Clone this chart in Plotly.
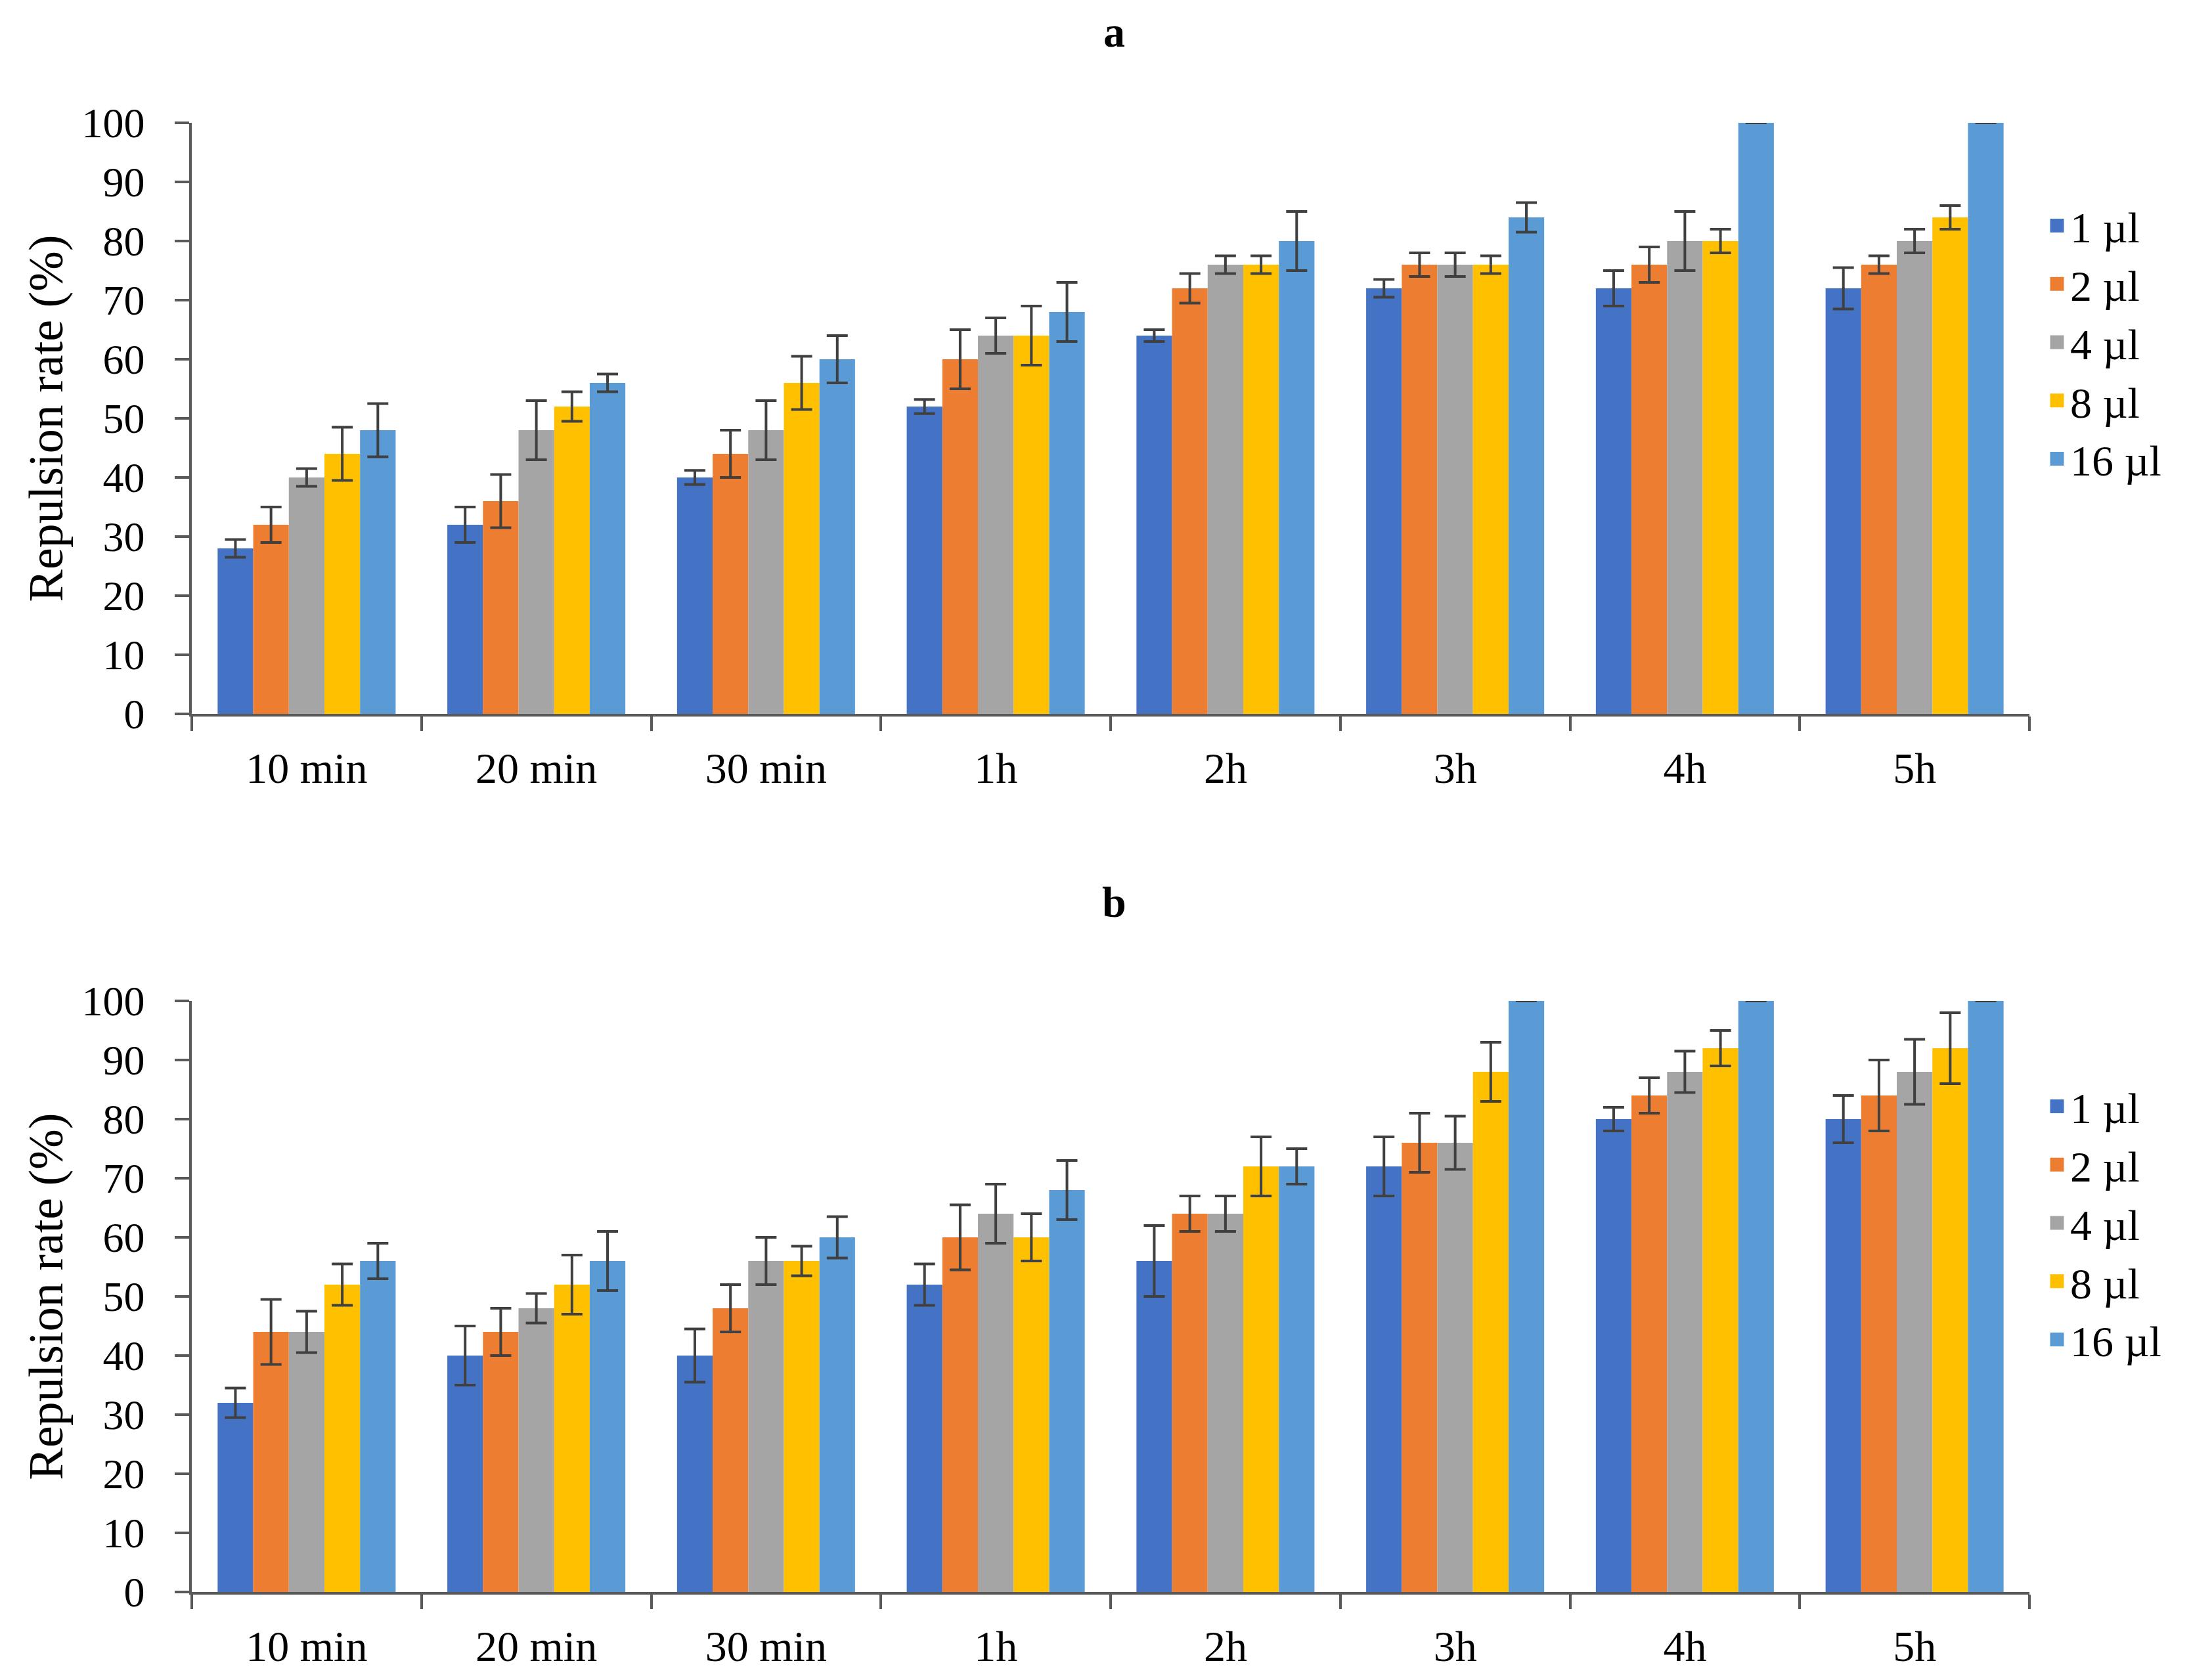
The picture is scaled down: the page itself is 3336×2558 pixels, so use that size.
import plotly.graph_objects as go

categories = ["10 min", "20 min", "30 min", "1h", "2h", "3h", "4h", "5h"]
doses = ["1 \u00b5l", "2 \u00b5l", "4 \u00b5l", "8 \u00b5l", "16 \u00b5l"]
colors = ["#4472C4", "#ED7D31", "#A5A5A5", "#FFC000", "#5B9BD5"]

# Panel a: values per dose across categories
a_1 = [28, 32, 40, 52, 64, 72, 72, 72]
a_2 = [32, 36, 44, 60, 72, 76, 76, 76]
a_4 = [40, 48, 48, 64, 76, 76, 80, 80]
a_8 = [44, 52, 56, 64, 76, 76, 80, 84]
a_16 = [48, 56, 60, 68, 80, 84, 100, 100]
a_err_1 = [1.5, 3, 1.2, 1.2, 1, 1.5, 3, 3.5]
a_err_2 = [3, 4.5, 4, 5, 2.5, 2, 3, 1.5]
a_err_4 = [1.5, 5, 5, 3, 1.5, 2, 5, 2]
a_err_8 = [4.5, 2.5, 4.5, 5, 1.5, 1.5, 2, 2]
a_err_16 = [4.5, 1.5, 4, 5, 5, 2.5, 0, 0]

# Panel b
b_1 = [32, 40, 40, 52, 56, 72, 80, 80]
b_2 = [44, 44, 48, 60, 64, 76, 84, 84]
b_4 = [44, 48, 56, 64, 64, 76, 88, 88]
b_8 = [52, 52, 56, 60, 72, 88, 92, 92]
b_16 = [56, 56, 60, 68, 72, 100, 100, 100]
b_err_1 = [2.5, 5, 4.5, 3.5, 6, 5, 2, 4]
b_err_2 = [5.5, 4, 4, 5.5, 3, 5, 3, 6]
b_err_4 = [3.5, 2.5, 4, 5, 3, 4.5, 3.5, 5.5]
b_err_8 = [3.5, 5, 2.5, 4, 5, 5, 3, 6]
b_err_16 = [3, 5, 3.5, 5, 3, 0, 0, 0]

y_ticks = [0, 10, 20, 30, 40, 50, 60, 70, 80, 90, 100]
y_title = "Repulsion rate (%)"

panel_a = [a_1, a_2, a_4, a_8, a_16]
panel_a_err = [a_err_1, a_err_2, a_err_4, a_err_8, a_err_16]
panel_b = [b_1, b_2, b_4, b_8, b_16]
panel_b_err = [b_err_1, b_err_2, b_err_4, b_err_8, b_err_16]

FONT = "Liberation Serif"
AXC = "#595959"
OFF = 8  # page body margin
W, H = 3336 - OFF, 2558 - OFF
ML, MR, MT, MB = 292 - OFF, 246, 187 - OFF, 134
PW, PH = W - ML - MR, H - MT - MB


def py(ref_y):
    """reference pixel row -> paper fraction"""
    return 1 - (ref_y - OFF - MT) / PH


def px(ref_x):
    return (ref_x - OFF - ML) / PW


fig = go.Figure()

for panel, errs, xa, ya, leg in [
    (panel_a, panel_a_err, "x", "y", "legend"),
    (panel_b, panel_b_err, "x2", "y2", "legend2"),
]:
    for i, (vals, e) in enumerate(zip(panel, errs)):
        fig.add_trace(go.Bar(
            x=categories, y=vals, name=doses[i], showlegend=False,
            marker=dict(color=colors[i], line=dict(width=0)),
            error_y=dict(type="data", array=e, visible=True,
                         color="#404040", thickness=4, width=16),
            xaxis=xa, yaxis=ya,
        ))
    for i in range(len(doses)):
        fig.add_trace(go.Scatter(
            x=[None], y=[None], mode="markers", name=doses[i],
            marker=dict(symbol="square", size=16, color=colors[i],
                        line=dict(color=colors[i], width=5)),
            xaxis=xa, yaxis=ya, legend=leg, hoverinfo="skip",
        ))

ya_dom = [py(1087), 1.0]
yb_dom = [0.0, py(1524)]

xaxis_common = dict(
    domain=[0, 1], showline=True, linecolor=AXC, linewidth=3.5,
    ticks="outside", ticklen=22, tickwidth=3.5, tickcolor=AXC,
    tickson="boundaries", showgrid=False, zeroline=False,
    tickfont=dict(family=FONT, size=66, color="#000000"),
    ticklabelstandoff=22, automargin=False,
)
yaxis_common = dict(
    range=[0, 100], tickvals=y_ticks, showline=True, linecolor=AXC,
    linewidth=3.5, ticks="outside", ticklen=22, tickwidth=3.5, tickcolor=AXC,
    showgrid=False, zeroline=False, automargin=False,
    tickfont=dict(family=FONT, size=64, color="#000000"),
    ticklabelstandoff=33,
    title=dict(text=y_title, font=dict(family=FONT, size=74, color="#000000"),
               standoff=6),
)

legend_common = dict(
    font=dict(family=FONT, size=66, color="#000000"),
    x=px(3112), xanchor="left", yanchor="middle",
    itemsizing="trace", bgcolor="rgba(0,0,0,0)", tracegroupgap=0,
)

fig.update_layout(
    width=W, height=H,
    margin=dict(l=ML, r=MR, t=MT, b=MB, autoexpand=False),
    paper_bgcolor="white", plot_bgcolor="white",
    barmode="group", bargap=0.225, bargroupgap=0,
    xaxis=dict(**xaxis_common, anchor="y"),
    yaxis=dict(**yaxis_common, domain=ya_dom, anchor="x"),
    xaxis2=dict(**xaxis_common, anchor="y2"),
    yaxis2=dict(**yaxis_common, domain=yb_dom, anchor="x2"),
    legend=dict(**legend_common, y=py(521)),
    legend2=dict(**legend_common, y=py(1862)),
    annotations=[
        dict(text="<b>a</b>", x=px(1696), y=py(OFF + 2),
             xref="paper", yref="paper", yanchor="top", showarrow=False,
             font=dict(family=FONT, size=66, color="#000000")),
        dict(text="<b>b</b>", x=px(1696), y=py(1373),
             xref="paper", yref="paper", yanchor="middle", showarrow=False,
             font=dict(family=FONT, size=66, color="#000000")),
    ],
)

fig.write_html("out.html")
